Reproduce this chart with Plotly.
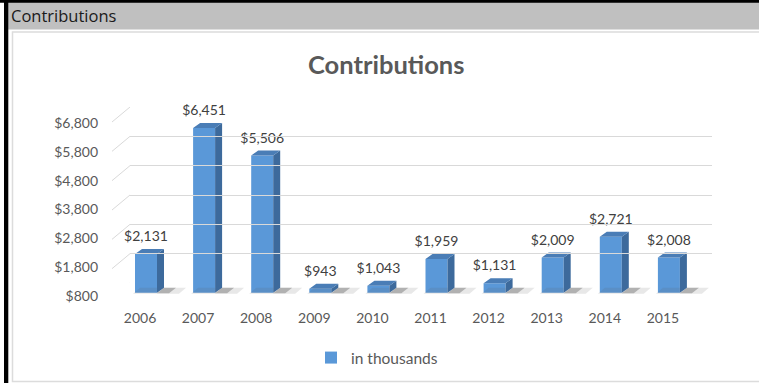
import plotly.graph_objects as go

# ---------------- data ----------------
years = ["2006", "2007", "2008", "2009", "2010", "2011", "2012", "2013", "2014", "2015"]
contributions = [2131, 6451, 5506, 943, 1043, 1959, 1131, 2009, 2721, 2008]
y_ticks = [800, 1800, 2800, 3800, 4800, 5800, 6800]
series_name = "in thousands"
chart_title = "Contributions"
header_title = "Contributions"

# ---------------- geometry (pixels) ----------------
W, H = 759, 383
BASE = 800
X0_PX = 140.0      # px of category index 0 (tick label)
X_STEP = 58.1      # px per category
Y_BASE_PX = 292.8  # px of BASE on bar plane
PPU = 0.02917      # px per value unit on bar plane
BAR_W_PX = 22
BAR_OFF_PX = -5
SIDE_DX_PX = 7
SIDE_DY_PX = 5

def fx(p):
    return p / W

def fy(p):
    return 1 - p / H

xr_lo, xr_hi = -1.0, 10.0
yr_lo, yr_hi = 400, 7200
x_dom = [fx(X0_PX + xr_lo * X_STEP), fx(X0_PX + xr_hi * X_STEP)]
y_dom = [fy(Y_BASE_PX + (BASE - yr_lo) * PPU), fy(Y_BASE_PX - (yr_hi - BASE) * PPU)]

idx = list(range(len(years)))
bw = BAR_W_PX / X_STEP
boff = BAR_OFF_PX / X_STEP
dxu = SIDE_DX_PX / X_STEP
dyu = SIDE_DY_PX / PPU

FRONT = "#5a98d8"
SIDE = "#3d6a9c"
TOP = "#4a7db6"

fig = go.Figure()

# floor shadows
sx, sy = [], []
for i, v in zip(idx, contributions):
    xr = i + boff + bw
    xl = i + boff
    sx += [xl - 2 / X_STEP, xr + 22 / X_STEP, xr + 22 / X_STEP + dxu, xl - 2 / X_STEP + dxu, xl - 2 / X_STEP, None]
    sy += [BASE - 1 / PPU, BASE - 1 / PPU, BASE + dyu, BASE + dyu, BASE - 1 / PPU, None]
fig.add_trace(go.Scatter(x=sx, y=sy, fill="toself", mode="none",
                         fillcolor="rgba(90,90,90,0.14)", showlegend=False, hoverinfo="skip"))
sx, sy = [], []
for i, v in zip(idx, contributions):
    xr = i + boff + bw
    sx += [xr, xr + 12 / X_STEP, xr + 12 / X_STEP + dxu, xr + dxu, xr, None]
    sy += [BASE - 0.5 / PPU, BASE - 0.5 / PPU, BASE + dyu, BASE + dyu, BASE - 0.5 / PPU, None]
fig.add_trace(go.Scatter(x=sx, y=sy, fill="toself", mode="none",
                         fillcolor="rgba(50,50,50,0.30)", showlegend=False, hoverinfo="skip"))

# front faces
fig.add_trace(go.Bar(
    x=idx, y=[v - BASE for v in contributions], base=BASE,
    width=bw, offset=boff, name=series_name,
    marker=dict(color=FRONT, line=dict(width=0)),
    hoverinfo="skip",
))

# side faces
sx, sy = [], []
for i, v in zip(idx, contributions):
    xr = i + boff + bw
    sx += [xr, xr + dxu, xr + dxu, xr, xr, None]
    sy += [BASE, BASE + dyu, v + dyu, v, BASE, None]
fig.add_trace(go.Scatter(x=sx, y=sy, fill="toself", mode="none", fillcolor=SIDE,
                         showlegend=False, hoverinfo="skip"))

# top faces
sx, sy = [], []
for i, v in zip(idx, contributions):
    xl = i + boff
    xr = xl + bw
    sx += [xl, xr, xr + dxu, xl + dxu, xl, None]
    sy += [v, v, v + dyu, v + dyu, v, None]
fig.add_trace(go.Scatter(x=sx, y=sy, fill="toself", mode="none", fillcolor=TOP,
                         showlegend=False, hoverinfo="skip"))

# data labels
fig.add_trace(go.Scatter(
    x=[i + boff + bw / 2 for i in idx],
    y=[v + 16.5 / PPU for v in contributions],
    mode="text",
    text=["${:,}".format(v) for v in contributions],
    textfont=dict(family="Lato", size=14, color="#404040"),
    textposition="middle center",
    showlegend=False, hoverinfo="skip", cliponaxis=False,
))

# invisible traces for helper axes
fig.add_trace(go.Scatter(x=[0], y=[BASE], xaxis="x3", yaxis="y3", mode="markers",
                         marker=dict(opacity=0), showlegend=False, hoverinfo="skip"))
fig.add_trace(go.Scatter(x=[0], y=[BASE], xaxis="x3", yaxis="y2", mode="markers",
                         marker=dict(opacity=0), showlegend=False, hoverinfo="skip"))

# back wall grid axes
BACK_BASE_PX = 283.0
BACK_TOP_PX = 107.0
BACK_PPU = (BACK_BASE_PX - BACK_TOP_PX) / (y_ticks[-1] - y_ticks[0])
BACK_L, BACK_R = 130.0, 712.0
FRONT_L = 112.0
CONN_DY = 15.0

shapes = []
# header & frame
shapes.append(dict(type="rect", xref="paper", yref="paper", x0=fx(4), x1=1, y0=fy(29.5), y1=1,
                   fillcolor="#c0c0c0", line=dict(width=0), layer="below"))
shapes.append(dict(type="rect", xref="paper", yref="paper", x0=fx(12.5), x1=fx(762), y0=fy(381.5), y1=fy(32),
                   fillcolor="rgba(0,0,0,0)", line=dict(color="#dcdcdc", width=1.5), layer="below"))
shapes.append(dict(type="rect", xref="paper", yref="paper", x0=0, x1=1, y0=fy(2.8), y1=1,
                   fillcolor="#000000", line=dict(width=0)))
shapes.append(dict(type="rect", xref="paper", yref="paper", x0=fx(4), x1=fx(8.3), y0=0, y1=1,
                   fillcolor="#000000", line=dict(width=0)))
# connectors for gridlines (side wall)
for t in y_ticks:
    shapes.append(dict(type="line", xref="paper", yref="y3",
                       x0=fx(FRONT_L), y0=t - CONN_DY / BACK_PPU, x1=fx(BACK_L), y1=t,
                       line=dict(color="#d9d9d9", width=1), layer="below"))
# floor front edge
shapes.append(dict(type="line", xref="paper", yref="y3",
                   x0=fx(FRONT_L), y0=y_ticks[0] - CONN_DY / BACK_PPU,
                   x1=fx(BACK_R - (BACK_L - FRONT_L)), y1=y_ticks[0] - CONN_DY / BACK_PPU,
                   line=dict(color="#d9d9d9", width=1.5), layer="below"))

annotations = [
    dict(text=header_title, xref="paper", yref="paper", x=fx(9), y=fy(16),
         xanchor="left", yanchor="middle", showarrow=False,
         font=dict(family="Open Sans", size=16.5, color="#1a1a1a")),
    dict(text="<b>" + chart_title + "</b>", xref="paper", yref="paper", x=fx(386), y=fy(63.5),
         xanchor="center", yanchor="middle", showarrow=False,
         font=dict(family="Lato", size=25.5, color="#595959")),
]

fig.update_layout(
    width=W, height=H,
    margin=dict(l=0, r=0, t=0, b=0, pad=0, autoexpand=False),
    paper_bgcolor="white", plot_bgcolor="rgba(0,0,0,0)",
    showlegend=True,
    legend=dict(orientation="h", x=fx(311), y=fy(341), xanchor="left", yanchor="top",
                font=dict(family="Lato", size=15.5, color="#595959"), bgcolor="rgba(0,0,0,0)"),
    shapes=shapes,
    annotations=annotations,
    xaxis=dict(domain=x_dom, range=[xr_lo, xr_hi], tickvals=idx, ticktext=years,
               showgrid=False, zeroline=False, showline=False, ticks="",
               tickfont=dict(family="Lato", size=14, color="#595959"),
               ticklabelstandoff=4, anchor="y", fixedrange=True),
    yaxis=dict(domain=y_dom, range=[yr_lo, yr_hi], visible=False, anchor="x", fixedrange=True),
    xaxis3=dict(domain=[fx(BACK_L), fx(BACK_R)], range=[0, 1], visible=False, anchor="y3"),
    yaxis3=dict(domain=[fy(BACK_BASE_PX), fy(BACK_TOP_PX)], range=[y_ticks[0], y_ticks[-1]],
                anchor="x3", tickvals=y_ticks, showticklabels=False, ticks="",
                showgrid=True, gridcolor="#d9d9d9", gridwidth=1, zeroline=False, showline=False),
    yaxis2=dict(domain=[fy(296), fy(123)], range=[y_ticks[0], y_ticks[-1]],
                anchor="free", position=fx(98), side="left", tickvals=y_ticks,
                ticktext=["${:,}".format(t) for t in y_ticks],
                showgrid=False, zeroline=False, showline=False,
                ticks="", tickfont=dict(family="Lato", size=14, color="#595959")),
)

fig.write_html("out.html")
